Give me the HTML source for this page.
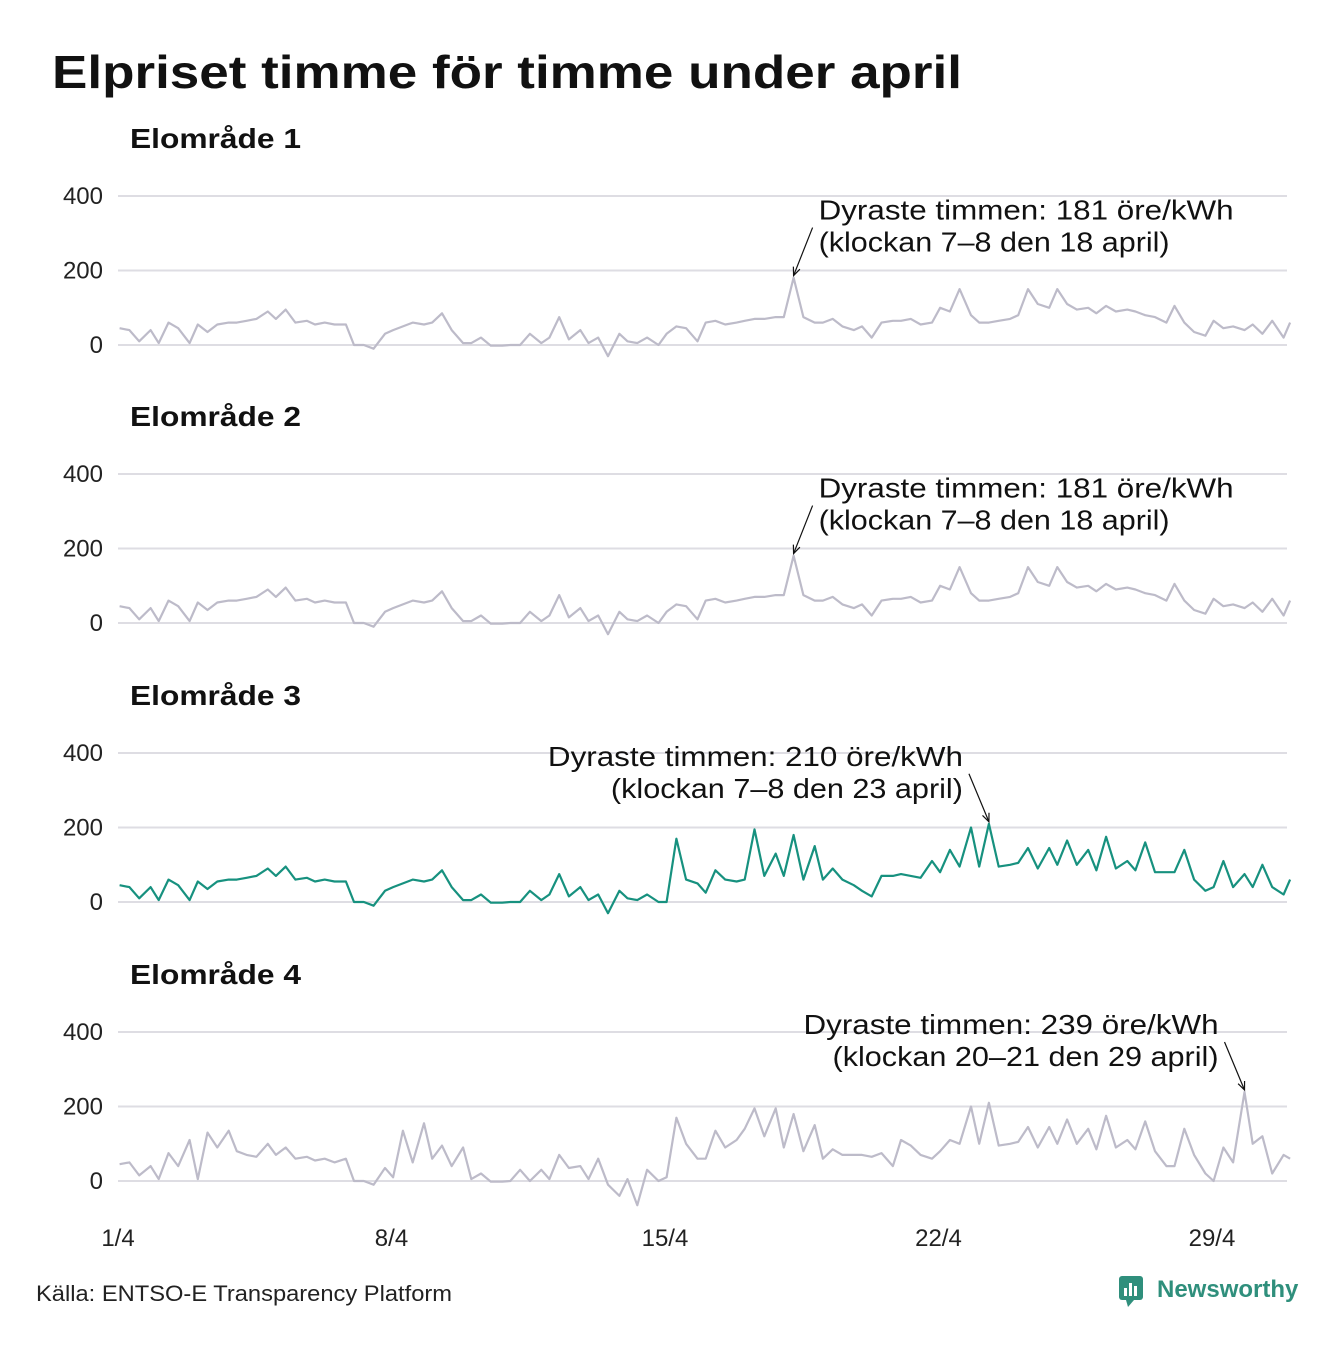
<!DOCTYPE html>
<html><head><meta charset="utf-8">
<style>
html,body{margin:0;padding:0;background:#fff;}
body{width:1340px;height:1340px;overflow:hidden;font-family:"Liberation Sans",sans-serif;}
</style></head>
<body>
<svg id="chart" width="1340" height="1340" viewBox="0 0 1340 1340" xmlns="http://www.w3.org/2000/svg">
<text x="52" y="88" font-size="46" font-weight="bold" fill="#111" textLength="910" lengthAdjust="spacingAndGlyphs">Elpriset timme för timme under april</text>
<g id="panels"></g>
<text x="36" y="1301" font-size="22" fill="#222" textLength="416" lengthAdjust="spacingAndGlyphs">Källa: ENTSO-E Transparency Platform</text>
<g>
<rect x="1119" y="1276" width="24" height="24" rx="3" fill="#2f8f7c"/>
<rect x="1124" y="1288" width="3" height="8" fill="#fff"/><rect x="1129" y="1283" width="3" height="13" fill="#fff"/><rect x="1134" y="1286" width="3" height="10" fill="#fff"/>
<polygon points="1126,1300 1134,1300 1128,1307" fill="#2f8f7c"/>
<text x="1157" y="1297" font-size="24" font-weight="bold" fill="#2f8f7c">Newsworthy</text>
</g>
</svg>
<script>
const sampleHours = [1, 7, 13, 20];
const yTicks = [0, 200, 400];
const xTickLabels = ["1/4", "8/4", "15/4", "22/4", "29/4"];
const xTickDays = [0, 7, 14, 21, 28];
const panelTitles = ["Elområde 1", "Elområde 2", "Elområde 3", "Elområde 4"];
const se1 = [45,40,10,40, 5,60,45,5, 55,35,55,60, 60,65,70,90, 70,95,60,65, 55,60,55,55, 0,0,-10,30, 40,50,60,55, 60,85,40,5, 5,20,-2,-2, 0,0,30,5, 20,75,15,40, 5,20,-30,30, 10,5,20,0, 30,50,45,10, 60,65,55,60, 65,70,70,75, 75,181,75,60, 60,70,50,40, 50,20,60,65, 65,70,55,60, 100,90,150,80, 60,60,65,70, 80,150,110,100, 150,110,95,100, 85,105,90,95, 90,80,75,60, 105,60,35,25, 65,45,50,40, 55,30,65,20, 60];
const se2 = se1.slice();
const se3 = [45,40,10,40, 5,60,45,5, 55,35,55,60, 60,65,70,90, 70,95,60,65, 55,60,55,55, 0,0,-10,30, 40,50,60,55, 60,85,40,5, 5,20,-2,-2, 0,0,30,5, 20,75,15,40, 5,20,-30,30, 10,5,20,0, 0,170,60,50, 25,85,60,55, 60,195,70,130, 70,180,60,150, 60,90,60,45, 30,15,70,70, 75,70,65,110, 80,140,95,200, 95,210,95,100, 105,145,90,145, 100,165,100,140, 85,175,90,110, 85,160,80,80, 80,140,60,30, 40,110,40,75, 40,100,40,20, 60];
const se4 = [45,50,15,40, 5,75,40,110, 5,130,90,135, 80,70,65,100, 70,90,60,65, 55,60,50,60, 0,0,-10,35, 10,135,50,155, 60,95,40,90, 5,20,-2,-2, 0,30,0,30, 5,70,35,40, 5,60,-10,-40, 5,-65,30,0, 10,170,100,60, 60,135,90,110, 140,195,120,195, 90,180,80,150, 60,85,70,70, 70,65,75,40, 110,95,70,60, 80,110,100,200, 100,210,95,100, 105,145,90,145, 100,165,100,140, 85,175,90,110, 85,160,80,40, 40,140,70,20, 0,90,50,239, 100,120,20,70, 60];
const seriesList = [se1, se2, se3, se4];
const seriesColors = ["#bdbbc9", "#bdbbc9", "#17917f", "#bdbbc9"];
const annoLines = [["Dyraste timmen: 181 öre/kWh","(klockan 7–8 den 18 april)"],["Dyraste timmen: 181 öre/kWh","(klockan 7–8 den 18 april)"],["Dyraste timmen: 210 öre/kWh","(klockan 7–8 den 23 april)"],["Dyraste timmen: 239 öre/kWh","(klockan 20–21 den 29 april)"]];
const annoWidths = [[415,351],[415,351],[415,352],[415,386]];

const NS = "http://www.w3.org/2000/svg";
const X0 = 118, DAYW = 39.07, XEND = 1287;
const zeroY = [345, 623, 902, 1181];
const PXU = 0.3725;
function xScale(hour){ return X0 + hour / 24 * DAYW; }
function yScale(p, v){ return zeroY[p] - v * PXU; }
function hourOf(i){ const d = Math.floor(i / 4); return d * 24 + sampleHours[i % 4]; }
function mk(tag, attrs, parent){ const e = document.createElementNS(NS, tag); for (const k in attrs) e.setAttribute(k, attrs[k]); parent.appendChild(e); return e; }
const root = document.getElementById("panels");
for (let p = 0; p < 4; p++) {
  const g = mk("g", {}, root);
  
  
  const t = mk("text", {x: 130, y: zeroY[p] - 197, "font-size": 28, "font-weight": "bold", fill: "#111", textLength: 171, lengthAdjust: "spacingAndGlyphs"}, g);
  t.textContent = panelTitles[p];
  
  
  yTicks.forEach(v => {
    const l = mk("line", {x1: X0, x2: XEND, y1: yScale(p, v), y2: yScale(p, v), stroke: "#dedde3", "stroke-width": 2}, g);
    
    
    const tl = mk("text", {x: 103, y: yScale(p, v) + 8, "text-anchor": "end", "font-size": 24, fill: "#222"}, g);
    tl.textContent = v;
    
    
  });
  const data = seriesList[p];
  let d = "";
  data.forEach((v, i) => {
    let h = i === data.length - 1 ? 30 * 24 : hourOf(i);
    d += (i ? "L" : "M") + xScale(h).toFixed(1) + "," + yScale(p, v).toFixed(1);
  });
  const path = mk("path", {d: d, fill: "none", stroke: seriesColors[p], "stroke-width": 2.2, "stroke-linejoin": "round"}, g);
  
  
  let mi = 0; data.forEach((v, i) => { if (v > data[mi]) mi = i; });
  const px = xScale(hourOf(mi)), py = yScale(p, data[mi]);
  const right = p >= 2;
  const ax = right ? px - 20 : px + 19;
  const ay = py - 50;
  const ar = mk("line", {x1: ax, y1: ay, x2: px, y2: py - 2, stroke: "#111", "stroke-width": 1.2}, g);
  
  
  const ang = Math.atan2(py - 2 - ay, px - ax);
  const hx = px, hy = py - 2;
  const head = mk("path", {d: `M${hx - 9*Math.cos(ang - 0.4)},${hy - 9*Math.sin(ang - 0.4)}L${hx},${hy}L${hx - 9*Math.cos(ang + 0.4)},${hy - 9*Math.sin(ang + 0.4)}`, fill: "none", stroke: "#111", "stroke-width": 1.2}, g);
  
  
  const tx = right ? ax - 6 : ax + 6;
  annoLines[p].forEach((s, k) => {
    const at = mk("text", {x: tx, y: ay - 8 + k * 32, "text-anchor": right ? "end" : "start", "font-size": 28, fill: "#111", textLength: annoWidths[p][k], lengthAdjust: "spacingAndGlyphs"}, g);
    at.textContent = s;
    
    
  });
}
xTickLabels.forEach((s, i) => {
  const t = mk("text", {x: xScale(xTickDays[i] * 24), y: 1246, "text-anchor": "middle", "font-size": 24, fill: "#222"}, root);
  t.textContent = s;
  
  
});
</script>
</body></html>
